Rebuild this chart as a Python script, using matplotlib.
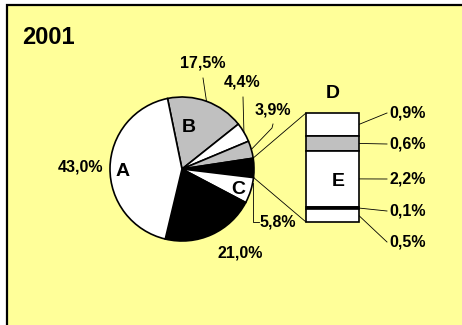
import matplotlib
matplotlib.use("Agg")
import matplotlib.pyplot as plt
import numpy as np
from matplotlib.patches import Rectangle

W, H = 462, 325

# pie shares, clockwise starting with B
pie_vals = [17.5, 4.4, 3.9, 4.3, 5.8, 21.0, 43.0]
pie_cols = ["#c0c0c0", "white", "#c0c0c0", "black", "white", "black", "white"]

# breakdown of D, top to bottom
d_vals = [0.9, 0.6, 2.2, 0.1, 0.5]
d_cols = ["white", "#c0c0c0", "white", "black", "white"]
d_labels = ["0,9%", "0,6%", "2,2%", "0,1%", "0,5%"]

FONT = "Liberation Sans"
lab = dict(fontsize=11.5, fontweight="bold", family=FONT)

fig = plt.figure(figsize=(W / 100, H / 100), dpi=100)
ax = fig.add_axes([0, 0, 1, 1])

def Y(y):
    # top-down pixel -> axis coord
    return H - y

# yellow frame, only left and top edges are inside the picture
ax.add_patch(Rectangle((7, -20), 520, Y(5) + 20, facecolor="#ffff99",
                       edgecolor="none", zorder=0))
ax.plot([7, 7, W + 5], [-5, Y(5), Y(5)], color="black", lw=1.6,
        solid_joinstyle="miter", zorder=0.5)

# pie
cx, cy, r = 182, Y(169), 72
start = 101.6
ax.pie(pie_vals, colors=pie_cols, startangle=start, counterclock=False,
       center=(cx, cy), radius=r,
       wedgeprops=dict(edgecolor="black", linewidth=1.2))

edges = start - 3.6 * np.concatenate([[0], np.cumsum(pie_vals)])

def on_edge(a):
    t = np.deg2rad(a)
    return cx + r * np.cos(t), cy + r * np.sin(t)

def mid(i, f=0.5):
    return edges[i] + f * (edges[i + 1] - edges[i])

thin = dict(color="black", lw=0.6)

# B 17,5%
x0, y0 = on_edge(mid(0))
ax.plot([x0, 203], [y0, Y(78)], **thin)
ax.text(203, Y(63), "17,5%", ha="center", va="center", **lab)
# 4,4%
x0, y0 = on_edge(mid(1))
ax.plot([x0, 243], [y0, Y(97)], **thin)
ax.text(242, Y(82), "4,4%", ha="center", va="center", **lab)
# 3,9%
x0, y0 = on_edge(mid(2))
ax.plot([x0, 272, 273], [y0, Y(128), Y(124)], **thin)
ax.text(273, Y(110), "3,9%", ha="center", va="center", **lab)
# C 5,8%
x0, y0 = on_edge(mid(4, 0.2))
ax.plot([x0, x0, x0 + 6], [y0, Y(222), Y(222)], **thin)
ax.text(x0 + 7, Y(222), "5,8%", ha="left", va="center", **lab)
# 21,0% and 43,0%
ax.text(240, Y(253), "21,0%", ha="center", va="center", **lab)
ax.text(80, Y(167), "43,0%", ha="center", va="center", **lab)

big = dict(fontsize=14, fontweight="bold", family=FONT, ha="center", va="center")
ax.text(123, Y(171), "A", **big)
ax.text(189, Y(127), "B", **big)
ax.text(238, Y(189), "C", **big)

# D breakdown bar
bx, bw = 306, 53
top, bottom = Y(113), Y(222)
scale = (top - bottom) / sum(d_vals)
heights = np.array(d_vals) * scale
bottoms = top - np.cumsum(heights)
ax.bar(bx + bw / 2, heights, bottom=bottoms, width=bw, color=d_cols,
       edgecolor="black", linewidth=1.2, zorder=3)

# connectors from the D slice to the bar
xa, ya = on_edge(edges[3])
xb, yb = on_edge(edges[4])
ax.plot([xa, bx], [ya, top], **thin)
ax.plot([xb, bx], [yb, bottom], **thin)

ax.text(333, Y(94), "D", **big)
ax.text(338, Y(182), "E", **big)

label_y = [113, 144, 179, 211, 242]
for h, b, t, ly in zip(heights, bottoms, d_labels, label_y):
    ax.plot([bx + bw, 387], [b + h / 2, Y(ly)], **thin)
    ax.text(389, Y(ly), t, ha="left", va="center", **lab)

ax.text(22, Y(38), "2001", fontsize=17, fontweight="bold", family=FONT,
        ha="left", va="center")

ax.set_xlim(0, W)
ax.set_ylim(0, H)
ax.set_aspect("auto")
ax.axis("off")
fig.patch.set_facecolor("white")
fig.savefig("out.png", dpi=100)
